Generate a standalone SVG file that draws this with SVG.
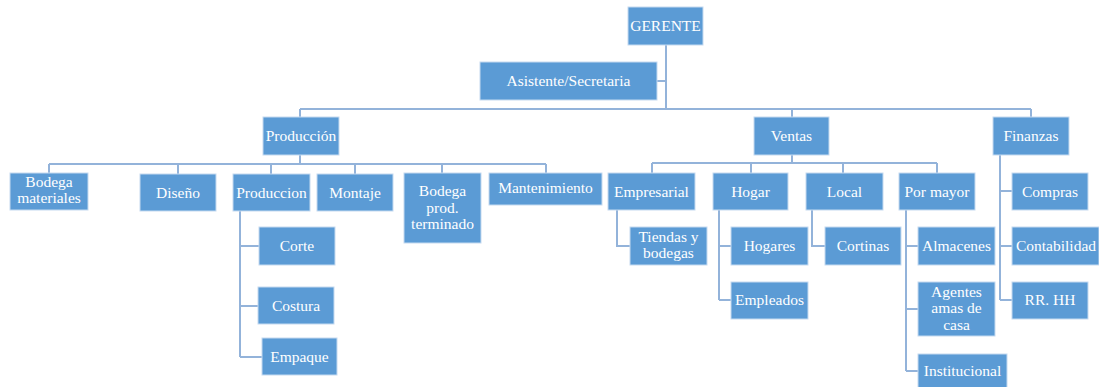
<svg xmlns="http://www.w3.org/2000/svg" width="1099" height="387" viewBox="0 0 1099 387">
<style>
.b{fill:#5b9bd5;stroke:#c5daf0;stroke-width:1}
.t{font-family:"Liberation Serif","Times New Roman",serif;font-size:15.5px;fill:#ffffff;text-anchor:middle}
.c{fill:none;stroke:#93b3da;stroke-width:2}
</style>
<rect width="1099" height="387" fill="#ffffff"/>
<g id="connectors" class="c">
<path d="M666 45V109M657 81H666M300 109H1031M300 109V117M792 109V117M1031 109V117"/>
<path d="M300 155V164M49 164H546M49 164V173M178 164V174M271 164V174M355 164V174M442 164V173M546 164V173"/>
<path d="M240 211V357M240 246H259M240 306H258M240 357H262"/>
<path d="M792 155V163M652 163H937M652 163V173M751 163V173M843 163V173M937 163V173"/>
<path d="M617 210V246H630"/>
<path d="M719 210V300M719 246H731M719 300H731"/>
<path d="M812 210V246H825"/>
<path d="M906 210V371M906 246H918M906 309H918M906 371H918"/>
<path d="M1000 155V300M1000 191H1012M1000 246H1012M1000 300H1012"/>
</g>
<g id="gerente"><rect class="b" x="628" y="7" width="75" height="38"/><text class="t" x="665.5" y="31">GERENTE</text></g>
<g id="asistente"><rect class="b" x="480" y="62" width="177" height="38"/><text class="t" x="568.5" y="86">Asistente/Secretaria</text></g>
<g id="produccion-dept"><rect class="b" x="263" y="117" width="76" height="38"/><text class="t" x="301" y="141">Producción</text></g>
<g id="ventas"><rect class="b" x="754" y="117" width="75" height="38"/><text class="t" x="791.5" y="141">Ventas</text></g>
<g id="finanzas"><rect class="b" x="993" y="117" width="76" height="38"/><text class="t" x="1031" y="141">Finanzas</text></g>
<g id="bodega-materiales"><rect class="b" x="10" y="173" width="78" height="37"/><text class="t" x="49"><tspan x="49" y="187">Bodega</tspan><tspan x="49" y="203">materiales</tspan></text></g>
<g id="diseno"><rect class="b" x="140" y="174" width="76" height="37"/><text class="t" x="178" y="198">Diseño</text></g>
<g id="produccion"><rect class="b" x="233" y="174" width="77" height="37"/><text class="t" x="271.5" y="198">Produccion</text></g>
<g id="montaje"><rect class="b" x="317" y="174" width="76" height="37"/><text class="t" x="355" y="198">Montaje</text></g>
<g id="bodega-prod"><rect class="b" x="404" y="173" width="77" height="70"/><text class="t"><tspan x="442.5" y="196">Bodega</tspan><tspan x="442.5" y="213">prod.</tspan><tspan x="442.5" y="229">terminado</tspan></text></g>
<g id="mantenimiento"><rect class="b" x="489" y="173" width="113" height="32"/><text class="t" x="545.5" y="193">Mantenimiento</text></g>
<g id="corte"><rect class="b" x="259" y="227" width="76" height="38"/><text class="t" x="297" y="251">Corte</text></g>
<g id="costura"><rect class="b" x="258" y="287" width="76" height="37"/><text class="t" x="296" y="311">Costura</text></g>
<g id="empaque"><rect class="b" x="262" y="338" width="75" height="37"/><text class="t" x="299.5" y="362">Empaque</text></g>
<g id="empresarial"><rect class="b" x="608" y="173" width="87" height="37"/><text class="t" x="651.5" y="197">Empresarial</text></g>
<g id="hogar"><rect class="b" x="713" y="173" width="75" height="37"/><text class="t" x="750.5" y="197">Hogar</text></g>
<g id="local"><rect class="b" x="806" y="173" width="77" height="37"/><text class="t" x="844.5" y="197">Local</text></g>
<g id="por-mayor"><rect class="b" x="899" y="173" width="76" height="37"/><text class="t" x="937" y="197">Por mayor</text></g>
<g id="compras"><rect class="b" x="1012" y="173" width="76" height="37"/><text class="t" x="1050" y="197">Compras</text></g>
<g id="tiendas"><rect class="b" x="630" y="227" width="77" height="38"/><text class="t"><tspan x="668.5" y="242">Tiendas y</tspan><tspan x="668.5" y="258">bodegas</tspan></text></g>
<g id="hogares"><rect class="b" x="731" y="227" width="77" height="38"/><text class="t" x="769.5" y="251">Hogares</text></g>
<g id="empleados"><rect class="b" x="731" y="282" width="77" height="37"/><text class="t" x="769.5" y="305">Empleados</text></g>
<g id="cortinas"><rect class="b" x="825" y="227" width="76" height="38"/><text class="t" x="863" y="251">Cortinas</text></g>
<g id="almacenes"><rect class="b" x="918" y="227" width="77" height="38"/><text class="t" x="956.5" y="251">Almacenes</text></g>
<g id="agentes"><rect class="b" x="918" y="282" width="77" height="54"/><text class="t"><tspan x="956.5" y="297">Agentes</tspan><tspan x="956.5" y="313">amas de</tspan><tspan x="956.5" y="330">casa</tspan></text></g>
<g id="institucional"><rect class="b" x="918" y="354" width="89" height="36"/><text class="t" x="962.5" y="376">Institucional</text></g>
<g id="contabilidad"><rect class="b" x="1012" y="227" width="87" height="38"/><text class="t" x="1056" y="251">Contabilidad</text></g>
<g id="rrhh"><rect class="b" x="1012" y="282" width="76" height="37"/><text class="t" x="1050" y="305">RR. HH</text></g>
</svg>
